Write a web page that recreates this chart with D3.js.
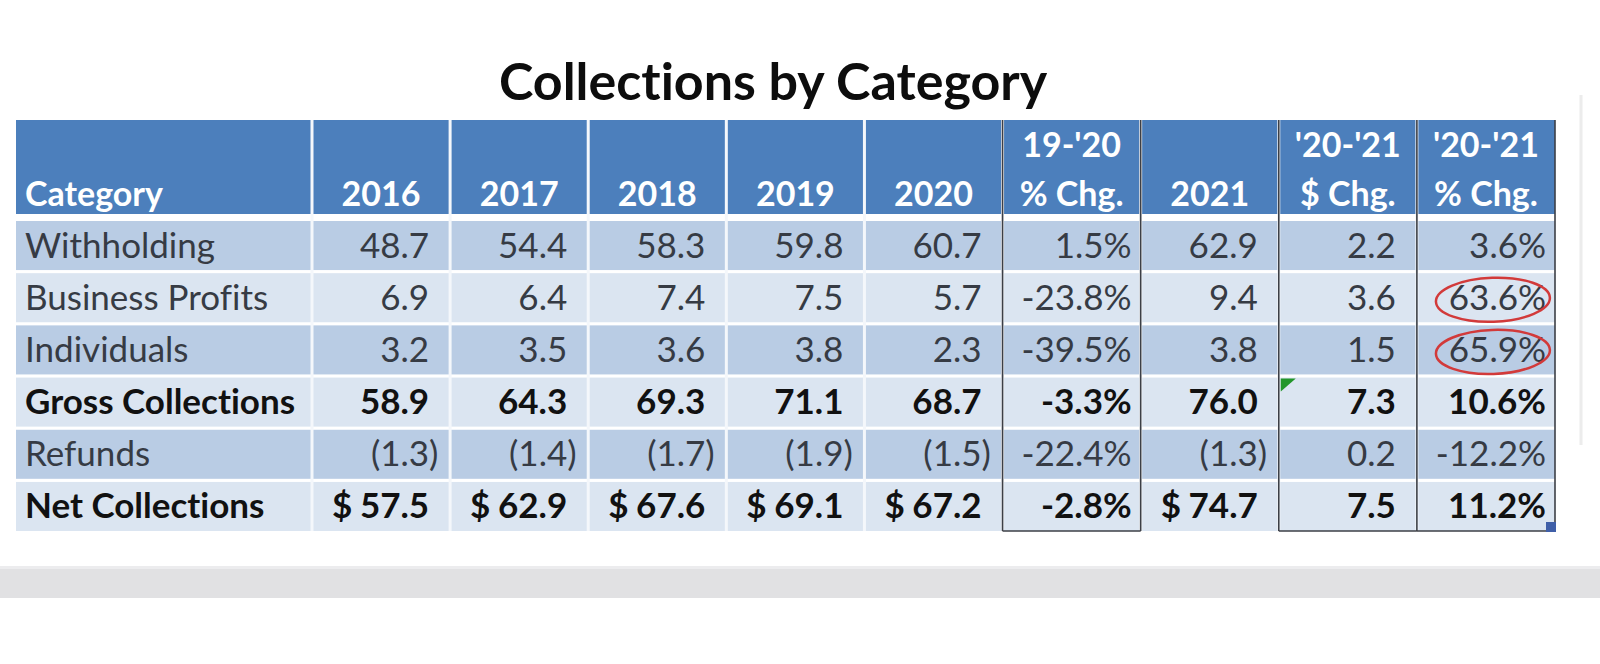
<!DOCTYPE html>
<html>
<head>
<meta charset="utf-8">
<script src="https://cdn.jsdelivr.net/npm/d3@7"></script>
<style>
  html, body { margin: 0; padding: 0; background: #ffffff; }
  svg { display: block; }
  svg text { font-variant-ligatures: none; font-feature-settings: "liga" 0, "clig" 0; }
</style>
</head>
<body>
<svg id="chart" width="1600" height="664"></svg>
<script>
// ---------------- data ----------------
const title = "Collections by Category";
const categories = ["Withholding", "Business Profits", "Individuals", "Gross Collections", "Refunds", "Net Collections"];
const boldRows = ["Gross Collections", "Net Collections"];
const dollarRow = "Net Collections";
const columnKeys = ["2016", "2017", "2018", "2019", "2020", "pct1920", "2021", "chg2021", "pct2021"];
const headerTop = ["", "", "", "", "", "19-'20", "", "'20-'21", "'20-'21"];
const headerBottom = ["2016", "2017", "2018", "2019", "2020", "% Chg.", "2021", "$ Chg.", "% Chg."];
const columnKinds = ["amount", "amount", "amount", "amount", "amount", "percent", "amount", "change", "percent"];
const v2016 = [48.7, 6.9, 3.2, 58.9, -1.3, 57.5];
const v2017 = [54.4, 6.4, 3.5, 64.3, -1.4, 62.9];
const v2018 = [58.3, 7.4, 3.6, 69.3, -1.7, 67.6];
const v2019 = [59.8, 7.5, 3.8, 71.1, -1.9, 69.1];
const v2020 = [60.7, 5.7, 2.3, 68.7, -1.5, 67.2];
const pct1920 = [1.5, -23.8, -39.5, -3.3, -22.4, -2.8];
const v2021 = [62.9, 9.4, 3.8, 76.0, -1.3, 74.7];
const chg2021 = [2.2, 3.6, 1.5, 7.3, 0.2, 7.5];
const pct2021 = [3.6, 63.6, 65.9, 10.6, -12.2, 11.2];
const circled = [["pct2021", "Business Profits"], ["pct2021", "Individuals"]];
const flagged = [["chg2021", "Gross Collections"]];
const boxedColumns = ["pct1920", "chg2021", "pct2021"];

const seriesByKey = {
  "2016": v2016, "2017": v2017, "2018": v2018, "2019": v2019, "2020": v2020,
  "pct1920": pct1920, "2021": v2021, "chg2021": chg2021, "pct2021": pct2021
};

// ---------------- layout ----------------
const W = 1600, H = 664;
const tableLeft = 16, catRight = 312, tableRight = 1555;
const headTop = 120, headBottom = 214, bodyTop = 221, bodyBottom = 531;

const svg = d3.select("#chart");
const FONT = "Lato, 'Open Sans', sans-serif";
const headerBlue = "#4c7fbc";
const rowDark = "#b9cce4";
const rowLight = "#dbe5f1";
const borderDark = "#3c3f46";
const textGrey = "#363b44";

const loc = d3.formatLocale({decimal: ".", thousands: ",", grouping: [3], currency: ["$", ""], minus: "-"});
const f1 = loc.format(".1f");

const x = d3.scaleBand().domain(columnKeys).range([catRight, tableRight]).paddingInner(0).paddingOuter(0);
const y = d3.scaleBand().domain(categories).range([bodyTop, bodyBottom]).paddingInner(0.06).paddingOuter(0);

svg.append("rect").attr("width", W).attr("height", H).attr("fill", "#ffffff");

// faint page edge on the right
svg.append("line").attr("x1", 1581).attr("x2", 1581).attr("y1", 95).attr("y2", 445)
  .attr("stroke", "#ececec").attr("stroke-width", 3);

// grey band at bottom
svg.append("rect").attr("x", 0).attr("y", 568).attr("width", W).attr("height", 30).attr("fill", "#e1e1e3");
svg.append("rect").attr("x", 0).attr("y", 566).attr("width", W).attr("height", 3).attr("fill", "#ececee");

// title
svg.append("text").attr("x", 773).attr("y", 100).attr("text-anchor", "middle")
  .attr("font-family", FONT).attr("font-weight", 700).attr("font-size", 52).attr("fill", "#0d0d0d")
  .text(title);

// header band
svg.append("rect").attr("x", tableLeft).attr("y", headTop).attr("width", tableRight - tableLeft)
  .attr("height", headBottom - headTop).attr("fill", headerBlue);

// body rows
svg.append("g").selectAll("rect").data(categories).join("rect")
  .attr("x", tableLeft).attr("y", d => y(d))
  .attr("width", tableRight - tableLeft)
  .attr("height", (d, i) => i === categories.length - 1 ? bodyBottom - y(d) : y.bandwidth())
  .attr("fill", (d, i) => i % 2 === 0 ? rowDark : rowLight);

// white column separators
const sepXs = [catRight].concat(columnKeys.slice(1).map(k => x(k)));
svg.append("g").selectAll("line").data(sepXs).join("line")
  .attr("x1", d => d).attr("x2", d => d).attr("y1", headTop).attr("y2", bodyBottom)
  .attr("stroke", "#f4f7fb").attr("stroke-width", 3);

// header text
const hdr = svg.append("g").attr("font-family", FONT).attr("font-weight", 700)
  .attr("font-size", 34).attr("fill", "#ffffff");
hdr.append("text").attr("x", 25).attr("y", 206).text("Category");
hdr.selectAll("text.b").data(columnKeys).join("text").attr("class", "b")
  .attr("x", d => x(d) + x.bandwidth() / 2).attr("y", 206).attr("text-anchor", "middle")
  .text((d, i) => headerBottom[i]);
hdr.selectAll("text.t").data(columnKeys.filter((d, i) => headerTop[i] !== "")).join("text").attr("class", "t")
  .attr("x", d => x(d) + x.bandwidth() / 2).attr("y", 157).attr("text-anchor", "middle")
  .text(d => headerTop[columnKeys.indexOf(d)]);

// measure ")" width for accounting alignment
const probe = svg.append("text").attr("font-family", FONT).attr("font-size", 35).text(")");
const parenW = probe.node().getComputedTextLength();
probe.remove();

// body text
const body = svg.append("g").attr("font-family", FONT).attr("font-size", 35);
const baseY = d => y(d) + y.bandwidth() / 2 + 12;

body.selectAll("text.cat").data(categories).join("text").attr("class", "cat")
  .attr("x", 25).attr("y", baseY)
  .attr("font-weight", d => boldRows.includes(d) ? 700 : 400)
  .attr("fill", d => boldRows.includes(d) ? "#111111" : textGrey)
  .text(d => d);

const cells = [];
columnKeys.forEach((k, ci) => {
  seriesByKey[k].forEach((v, ri) => {
    cells.push({key: k, kind: columnKinds[ci], cat: categories[ri], v: v});
  });
});

const right = d => x(d.key) + x.bandwidth();
body.selectAll("text.val").data(cells).join("text").attr("class", "val")
  .attr("y", d => baseY(d.cat))
  .attr("text-anchor", "end")
  .attr("font-weight", d => boldRows.includes(d.cat) ? 700 : 400)
  .attr("fill", d => boldRows.includes(d.cat) ? "#111111" : textGrey)
  .attr("x", d => {
    if (d.kind === "percent") return right(d) - 9;
    if (d.kind === "amount" && d.v < 0) return right(d) - 21 + parenW;
    return right(d) - 21;
  })
  .text(d => {
    if (d.kind === "percent") return f1(d.v) + "%";
    if (d.kind === "amount" && d.v < 0) return "(" + f1(-d.v) + ")";
    return f1(d.v);
  });

// dollar signs on the net row
body.selectAll("text.dol").data(cells.filter(d => d.cat === dollarRow && d.kind === "amount")).join("text")
  .attr("class", "dol")
  .attr("x", d => x(d.key) + 20).attr("y", d => baseY(d.cat))
  .attr("font-weight", 700).attr("fill", "#111111").text("$");

// dark borders around change columns
const borderXs = Array.from(new Set(boxedColumns.flatMap(k => [x(k), x(k) + x.bandwidth()])));
svg.append("g").selectAll("line").data(borderXs).join("line")
  .attr("x1", d => d).attr("x2", d => d).attr("y1", headTop).attr("y2", bodyBottom)
  .attr("stroke", borderDark).attr("stroke-width", 1.6);
svg.append("g").selectAll("line").data(boxedColumns).join("line")
  .attr("x1", d => x(d)).attr("x2", d => x(d) + x.bandwidth())
  .attr("y1", bodyBottom).attr("y2", bodyBottom)
  .attr("stroke", borderDark).attr("stroke-width", 1.6);

// red hand-drawn ellipses
svg.append("g").selectAll("ellipse").data(circled).join("ellipse")
  .attr("cx", d => x(d[0]) + x.bandwidth() * 0.55)
  .attr("cy", d => y(d[1]) + y.bandwidth() / 2 + 2)
  .attr("rx", 57).attr("ry", 22)
  .attr("fill", "none").attr("stroke", "#d23a3a").attr("stroke-width", 2.5)
  .attr("transform", d => `rotate(-2 ${x(d[0]) + x.bandwidth() * 0.55} ${y(d[1]) + y.bandwidth() / 2})`);

// green error-indicator triangle
svg.append("g").selectAll("path").data(flagged).join("path")
  .attr("d", d => {
    const x0 = x(d[0]) + 2, y0 = y(d[1]) + 1;
    return `M${x0},${y0}L${x0 + 15},${y0}L${x0},${y0 + 13}Z`;
  })
  .attr("fill", "#22962a");

// selection handle at bottom-right
svg.append("rect").attr("x", tableRight - 9).attr("y", bodyBottom - 9).attr("width", 10).attr("height", 10)
  .attr("fill", "#3f5fa8");
</script>
</body>
</html>
